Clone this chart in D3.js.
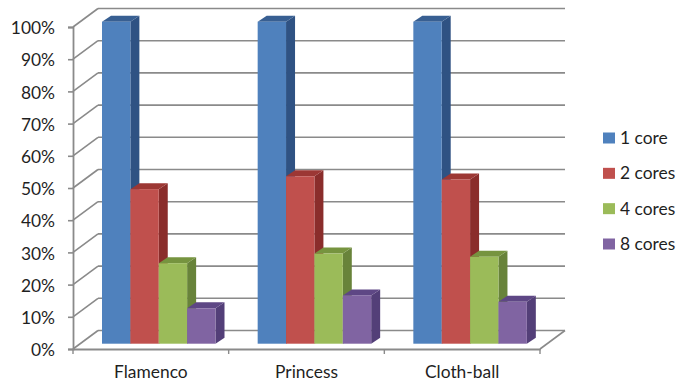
<!DOCTYPE html>
<html>
<head>
<meta charset="utf-8">
<script src="https://cdn.jsdelivr.net/npm/d3@7"></script>
<style>
  html, body { margin: 0; padding: 0; background: #fff; }
  svg { display: block; }
  text { font-family: "Lato", "Open Sans", sans-serif; fill: #1f1f1f; }
</style>
</head>
<body>
<svg id="chart" width="677" height="382"></svg>
<script>
const categories = ["Flamenco", "Princess", "Cloth-ball"];
const seriesNames = ["1 core", "2 cores", "4 cores", "8 cores"];
const core1 = [100, 100, 100];
const core2 = [48, 52, 51];
const core4 = [25, 28, 27];
const core8 = [11, 15, 13];
const yTicks = [0, 10, 20, 30, 40, 50, 60, 70, 80, 90, 100];

const seriesValues = [core1, core2, core4, core8];
const frontColors = ["#4f81bd", "#c0504d", "#9bbb59", "#8064a2"];
const sideColors = ["#2f5283", "#8a2d2b", "#68833a", "#533f78"];
const topColors = ["#385f92", "#9c3734", "#76943f", "#5e4785"];

const svg = d3.select("#chart");
const gridColor = "#8a8a8a";
const labelSize = "17.4px";

// Front plane of the 3D box, with the back wall shifted up and to the right.
const x0 = 73, x1 = 540, yBottom = 349, yTop = 27;
const wallDx = 25, wallDy = -18.5;

const x = d3.scaleBand().domain(categories).range([x0, x1]);
const y = d3.scaleLinear().domain([0, 100]).range([yBottom, yTop]);

const series = d3.scaleBand().domain(d3.range(seriesNames.length))
  .range([29, 29 + 113.5]);

// Bars stand slightly inside the floor, so their base sits above the front edge.
const barDy = -5.3;
const depthX = 9, depthY = -6;

const wall = svg.append("g").attr("fill", "none")
  .attr("stroke", gridColor).attr("stroke-width", 1.6);

// Back wall gridlines and the diagonal side-wall lines.
wall.selectAll("line.back").data(yTicks).join("line").attr("class", "back")
  .attr("x1", x0 + wallDx).attr("x2", x1 + wallDx)
  .attr("y1", d => y(d) + wallDy).attr("y2", d => y(d) + wallDy);
wall.selectAll("line.side").data(yTicks).join("line").attr("class", "side")
  .attr("x1", x0).attr("x2", x0 + wallDx)
  .attr("y1", d => y(d)).attr("y2", d => y(d) + wallDy);

// Right edge of the floor.
wall.append("line")
  .attr("x1", x1).attr("x2", x1 + wallDx)
  .attr("y1", y(0)).attr("y2", y(0) + wallDy);

// Value axis.
const yAxis = svg.append("g").attr("transform", `translate(${x0},0)`)
  .call(d3.axisLeft(y).tickValues(yTicks).tickSize(5).tickPadding(13).tickFormat(d => d + "%"));
yAxis.select(".domain").attr("stroke", gridColor).attr("stroke-width", 1.8);
yAxis.selectAll(".tick line").attr("stroke", gridColor).attr("stroke-width", 1.6);
yAxis.selectAll("text").style("font-size", labelSize).attr("dy", "0.38em");

// Category axis.
const xAxis = svg.append("g").attr("transform", `translate(0,${yBottom})`)
  .call(d3.axisBottom(x).tickSize(0).tickPadding(17));
xAxis.select(".domain").attr("stroke", gridColor).attr("stroke-width", 1.8);
xAxis.selectAll("text").style("font-size", labelSize);
xAxis.selectAll("line.cat").data(d3.range(categories.length + 1)).join("line").attr("class", "cat")
  .attr("x1", i => x0 + i * x.step()).attr("x2", i => x0 + i * x.step())
  .attr("y1", 0).attr("y2", 5)
  .attr("stroke", gridColor).attr("stroke-width", 1.4);

// Bars: left to right, so each one covers the side face of the bar before it.
categories.forEach((cat, c) => {
  const g = svg.append("g");
  seriesValues.forEach((vals, s) => {
    const left = x(cat) + series(s);
    const right = left + series.bandwidth();
    const top = y(vals[c]) + barDy;
    const base = y(0) + barDy;
    const bar = g.append("g");
    bar.append("polygon").attr("fill", sideColors[s])
      .attr("points", [[right, top], [right + depthX, top + depthY], [right + depthX, base + depthY], [right, base]].join(" "));
    bar.append("polygon").attr("fill", topColors[s])
      .attr("points", [[left, top], [left + depthX, top + depthY], [right + depthX, top + depthY], [right, top]].join(" "));
    bar.append("rect").attr("fill", frontColors[s])
      .attr("x", left).attr("y", top)
      .attr("width", series.bandwidth()).attr("height", base - top);
  });
});

// Legend.
const legendY = d3.scalePoint().domain(seriesNames).range([138, 244]);
const legend = svg.append("g");
const rows = legend.selectAll("g").data(seriesNames).join("g")
  .attr("transform", d => `translate(603,${legendY(d)})`);
rows.append("rect").attr("x", 0).attr("y", -5.5).attr("width", 12).attr("height", 11)
  .attr("fill", (d, i) => frontColors[i]);
rows.append("text").attr("x", 17).attr("dy", "0.34em")
  .style("font-size", labelSize).text(d => d);
</script>
</body>
</html>
